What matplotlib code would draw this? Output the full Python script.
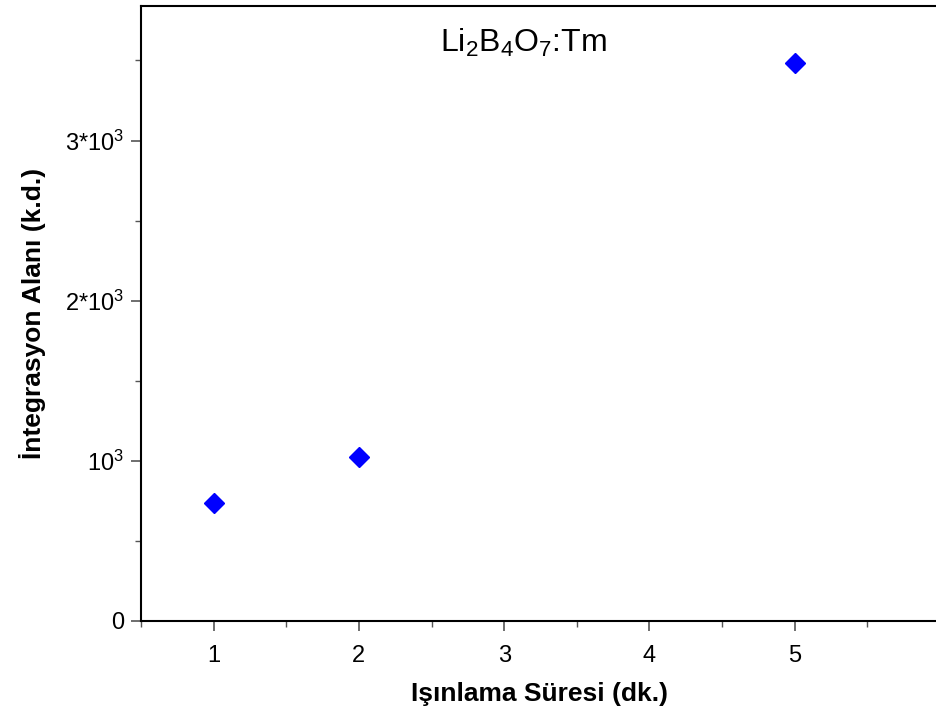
import matplotlib.pyplot as plt
from matplotlib.ticker import MultipleLocator, FixedLocator

plt.rcParams['font.family'] = ['Liberation Sans', 'DejaVu Sans']

# Irradiation time (min) vs integration area (a.u.)
sure = [1, 2, 5]
alan = [736, 1023, 3487]

y_ticks = [0, 1000, 2000, 3000]
y_labels = ['0', r'$\mathregular{10^3}$', r'$\mathregular{2{*}10^3}$', r'$\mathregular{3{*}10^3}$']

fig = plt.figure(figsize=(9.37, 7.15), dpi=100)
ax = fig.add_axes([0.1505, 0.1315, 0.8495, 0.8601])

ax.plot(sure, alan, linestyle='none', marker='D', markersize=10,
        color='#0000ff', markeredgecolor='#0000ff')

ax.set_xlim(0.5, 5.98)
ax.set_ylim(0, 3840)

ax.xaxis.set_major_locator(FixedLocator([1, 2, 3, 4, 5]))
ax.xaxis.set_minor_locator(MultipleLocator(0.5))
ax.yaxis.set_major_locator(FixedLocator(y_ticks))
ax.set_yticklabels(y_labels)
ax.yaxis.set_minor_locator(MultipleLocator(500))

ax.tick_params(which='both', direction='out', color='#555555', labelsize=17)
ax.tick_params(which='major', length=7, width=1.2)
ax.tick_params(which='minor', length=4, width=1.0)
ax.tick_params(axis='y', pad=5)
ax.tick_params(axis='x', pad=10)

ax.spines['right'].set_visible(False)
for s in ['left', 'bottom', 'top']:
    ax.spines[s].set_linewidth(1.5)

ax.set_xlabel('Işınlama Süresi (dk.)', fontsize=19, fontweight='bold', labelpad=11)
ax.set_ylabel('İntegrasyon Alanı (k.d.)', fontsize=19, fontweight='bold', labelpad=14)

ax.text(3.13, 3610, r'$\mathregular{Li_2B_4O_7}$:Tm', fontsize=23, ha='center', va='center')

fig.savefig('out.png', dpi=100)
